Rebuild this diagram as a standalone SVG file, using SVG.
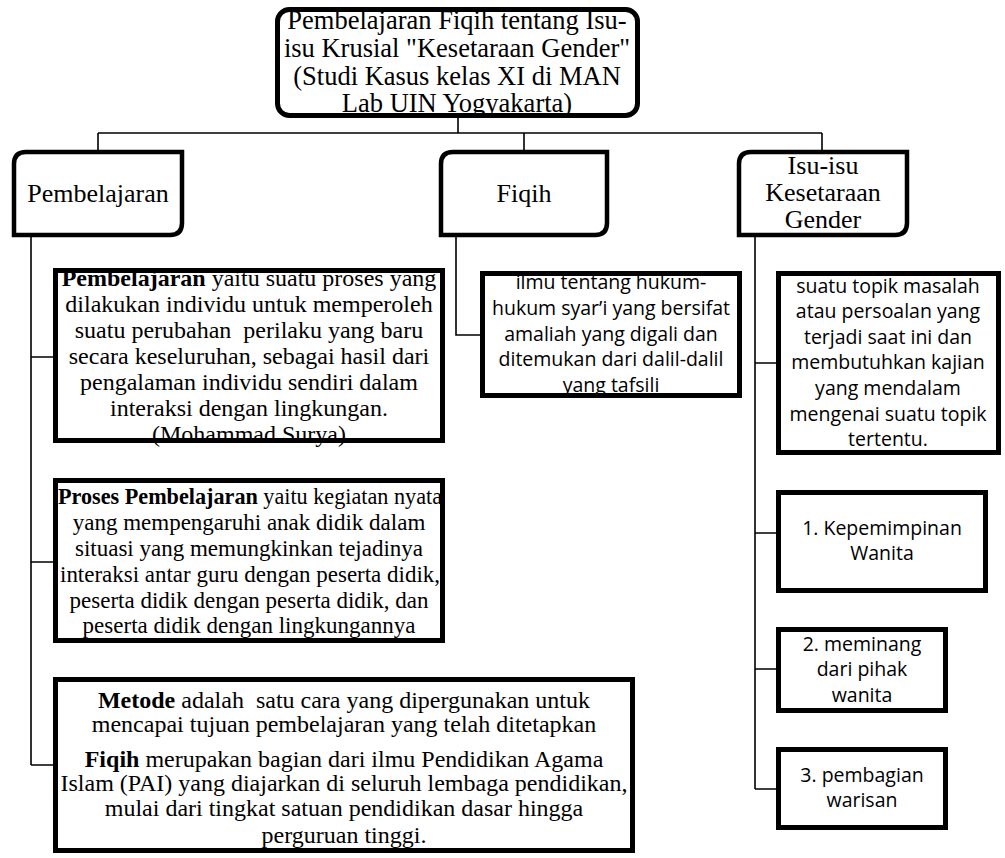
<svg xmlns="http://www.w3.org/2000/svg" width="1005" height="858" viewBox="0 0 1005 858">
<style>
.bg{fill:#ffffff}
.box{fill:#ffffff;stroke:#000;stroke-width:5}
.hdr{fill:#ffffff;stroke:#000;stroke-width:4.5}
.con{fill:none;stroke:#000;stroke-width:1.6}
.tnr{font-family:"Liberation Serif","Times New Roman",serif;fill:#000;text-anchor:middle}
.cal{font-family:"Open Sans","Noto Sans",sans-serif;fill:#000;text-anchor:middle;font-size:19.5px}
.b{font-weight:bold}
.pre{white-space:pre}
</style>
<rect class="bg" x="0" y="0" width="1005" height="858"/>
<g id="connectors">
<path class="con" d="M458 117 V133 M98 133 H822 M98 133 V150 M524 133 V150 M822 133 V150"/>
<path class="con" d="M31 237 V765 M31 357 H55 M31 562 H55 M31 765 H55"/>
<path class="con" d="M456 237 V335 H482"/>
<path class="con" d="M755 237 V789 M755 363 H778 M755 533 H778 M755 669 H778 M755 789 H778"/>
</g>
<g id="root">
<rect class="box" x="277.5" y="9.5" width="360" height="106" rx="12"/>
<text class="tnr" font-size="26.5" x="457" y="29">Pembelajaran Fiqih tentang Isu-</text>
<text class="tnr" font-size="26.5" x="457" y="57">isu Krusial "Kesetaraan Gender"</text>
<text class="tnr" font-size="26.5" x="457" y="85">(Studi Kasus kelas XI di MAN</text>
<text class="tnr" font-size="26.5" x="457" y="112">Lab UIN Yogyakarta)</text>
</g>
<g id="pembelajaran">
<path class="hdr" d="M26 152 H182 V223 Q182 235 170 235 H14 V164 Q14 152 26 152 Z"/>
<text class="tnr" font-size="26" x="98" y="202">Pembelajaran</text>
</g>
<g id="fiqih">
<path class="hdr" d="M453 152 H607 V223 Q607 235 595 235 H441 V164 Q441 152 453 152 Z"/>
<text class="tnr" font-size="26" x="524" y="202">Fiqih</text>
</g>
<g id="isu">
<path class="hdr" d="M751 152 H907 V223 Q907 235 895 235 H739 V164 Q739 152 751 152 Z"/>
<text class="tnr" font-size="26" x="823" y="174">Isu-isu</text>
<text class="tnr" font-size="26" x="823" y="201">Kesetaraan</text>
<text class="tnr" font-size="26" x="823" y="228">Gender</text>
</g>
<g id="def-pembelajaran">
<rect class="box" x="55.5" y="270.5" width="387" height="170"/>
<g class="tnr" font-size="24">
<text x="249" y="286"><tspan class="b">Pembelajaran</tspan> yaitu suatu proses yang</text>
<text x="249" y="312">dilakukan individu untuk memperoleh</text>
<text class="pre" x="249" y="338">suatu perubahan  perilaku yang baru</text>
<text x="249" y="364">secara keseluruhan, sebagai hasil dari</text>
<text x="249" y="390">pengalaman individu sendiri dalam</text>
<text x="249" y="416">interaksi dengan lingkungan.</text>
<text x="249" y="442">(Mohammad Surya)</text>
</g>
</g>
<g id="def-proses">
<rect class="box" x="55.5" y="480.5" width="387" height="160"/>
<g class="tnr" font-size="23">
<text x="250" y="504" textLength="384" lengthAdjust="spacingAndGlyphs"><tspan class="b">Proses Pembelajaran</tspan> yaitu kegiatan nyata</text>
<text x="249" y="530">yang mempengaruhi anak didik dalam</text>
<text x="249" y="556">situasi yang memungkinkan tejadinya</text>
<text x="250" y="582" textLength="380" lengthAdjust="spacingAndGlyphs">interaksi antar guru dengan peserta didik,</text>
<text x="249" y="608">peserta didik dengan peserta didik, dan</text>
<text x="249" y="633">peserta didik dengan lingkungannya</text>
</g>
</g>
<g id="def-metode">
<rect class="box" x="55.5" y="679.5" width="577" height="171"/>
<g class="tnr" font-size="24">
<text class="pre" x="344" y="708"><tspan class="b">Metode</tspan> adalah  satu cara yang dipergunakan untuk</text>
<text x="344" y="732">mencapai tujuan pembelajaran yang telah ditetapkan</text>
<text x="344" y="767"><tspan class="b">Fiqih</tspan> merupakan bagian dari ilmu Pendidikan Agama</text>
<text x="344" y="791">Islam (PAI) yang diajarkan di seluruh lembaga pendidikan,</text>
<text x="344" y="816">mulai dari tingkat satuan pendidikan dasar hingga</text>
<text x="344" y="843">perguruan tinggi.</text>
</g>
</g>
<g id="def-fiqih">
<rect class="box" x="482.5" y="273.5" width="257" height="122"/>
<text class="cal" x="611" y="289">ilmu tentang hukum-</text>
<text class="cal" x="611" y="315">hukum syar’i yang bersifat</text>
<text class="cal" x="611" y="341">amaliah yang digali dan</text>
<text class="cal" x="611" y="366">ditemukan dari dalil-dalil</text>
<text class="cal" x="611" y="392">yang tafsili</text>
</g>
<g id="def-isu">
<rect class="box" x="778.5" y="273.5" width="220" height="179"/>
<text class="cal" x="888" y="293">suatu topik masalah</text>
<text class="cal" x="888" y="318">atau persoalan yang</text>
<text class="cal" x="888" y="344">terjadi saat ini dan</text>
<text class="cal" x="888" y="369">membutuhkan kajian</text>
<text class="cal" x="888" y="395">yang mendalam</text>
<text class="cal" x="888" y="421">mengenai suatu topik</text>
<text class="cal" x="888" y="446">tertentu.</text>
</g>
<g id="isu-1">
<rect class="box" x="778.5" y="492.5" width="207" height="98"/>
<text class="cal" x="882" y="535">1. Kepemimpinan</text>
<text class="cal" x="882" y="560">Wanita</text>
</g>
<g id="isu-2">
<rect class="box" x="778.5" y="629.5" width="167" height="81"/>
<text class="cal" x="862" y="651">2. meminang</text>
<text class="cal" x="862" y="676">dari pihak</text>
<text class="cal" x="862" y="702">wanita</text>
</g>
<g id="isu-3">
<rect class="box" x="778.5" y="749.5" width="167" height="78"/>
<text class="cal" x="862" y="782">3. pembagian</text>
<text class="cal" x="862" y="807">warisan</text>
</g>
</svg>
